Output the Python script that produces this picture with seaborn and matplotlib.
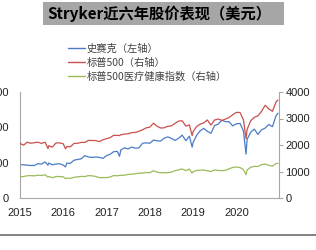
import matplotlib
matplotlib.use("Agg")
import matplotlib.pyplot as plt
from matplotlib.lines import Line2D
from matplotlib.patches import Rectangle
import seaborn as sns
import pandas as pd

sns.set_theme(style="white")
plt.rcParams['font.family'] = ['Liberation Sans', 'Noto Sans CJK SC', 'DejaVu Sans']

# ---- data ----
dates = [
    "2015-01-01", "2015-02-01", "2015-03-01", "2015-04-01", "2015-05-01", "2015-06-01",
    "2015-07-01", "2015-08-01", "2015-08-25", "2015-09-01", "2015-10-01", "2015-11-01", "2015-12-01",
    "2016-01-01", "2016-01-20", "2016-02-01", "2016-03-01", "2016-04-01", "2016-05-01", "2016-06-01",
    "2016-07-01", "2016-08-01", "2016-09-01", "2016-10-01", "2016-11-01", "2016-12-01",
    "2017-01-01", "2017-02-01", "2017-03-01", "2017-04-01", "2017-04-20", "2017-05-01", "2017-06-01",
    "2017-07-01", "2017-08-01", "2017-09-01", "2017-10-01", "2017-11-01", "2017-12-01",
    "2018-01-01", "2018-02-01", "2018-03-01", "2018-04-01", "2018-05-01", "2018-06-01",
    "2018-07-01", "2018-08-01", "2018-09-01", "2018-10-01", "2018-11-01", "2018-12-01", "2018-12-24",
    "2019-01-01", "2019-02-01", "2019-03-01", "2019-04-01", "2019-05-01", "2019-06-01",
    "2019-07-01", "2019-08-01", "2019-09-01", "2019-10-01", "2019-11-01", "2019-12-01",
    "2020-01-01", "2020-02-01", "2020-03-01", "2020-03-23", "2020-04-01", "2020-05-01", "2020-06-01",
    "2020-07-01", "2020-08-01", "2020-09-01", "2020-10-01", "2020-11-01", "2020-12-01", "2020-12-18",
]
stryker = [
    94, 94, 93, 92, 92, 97, 96, 102, 93, 99, 94, 96, 97,
    93, 88, 99, 98, 107, 109, 111, 120, 116, 115, 116, 115, 112,
    120, 124, 131, 132, 118, 136, 142, 139, 144, 141, 142, 155, 156,
    155, 164, 162, 161, 169, 173, 169, 163, 169, 178, 162, 175, 144,
    157, 178, 190, 197, 189, 183, 205, 209, 220, 216, 216, 204,
    210, 211, 190, 124, 166, 186, 195, 180, 193, 198, 208, 202, 233, 240,
]
sp500 = [
    2058, 1995, 2104, 2068, 2086, 2107, 2063, 2104, 1868, 1972, 1920, 2079, 2080,
    2044, 1859, 1940, 1932, 2060, 2065, 2097, 2099, 2174, 2171, 2168, 2126, 2199,
    2239, 2279, 2364, 2363, 2355, 2384, 2412, 2423, 2470, 2472, 2519, 2575, 2648,
    2674, 2824, 2714, 2641, 2648, 2705, 2718, 2816, 2902, 2914, 2712, 2760, 2351,
    2507, 2704, 2784, 2834, 2946, 2752, 2942, 2980, 2926, 2977, 3038, 3141,
    3231, 3226, 2954, 2237, 2585, 2912, 3044, 3100, 3271, 3500, 3363, 3270, 3622, 3700,
]
health = [
    795, 810, 840, 845, 835, 860, 850, 875, 790, 815, 765, 810, 810,
    800, 730, 750, 740, 780, 800, 815, 810, 845, 835, 815, 765, 770,
    770, 795, 845, 840, 850, 855, 860, 890, 900, 915, 935, 940, 960,
    955, 1030, 980, 950, 955, 955, 975, 1030, 1065, 1095, 1035, 1090, 940,
    990, 1040, 1050, 1055, 1030, 1000, 1060, 1040, 1030, 1045, 1100, 1150,
    1170, 1150, 1070, 880, 1060, 1160, 1195, 1190, 1260, 1280, 1235, 1200, 1300, 1310,
]
labels = ["史赛克（左轴）", "标普500（右轴）", "标普500医疗健康指数（右轴）"]
title = "Stryker近六年股价表现（美元）"
left_ticks = [0, 100, 200, 300]
right_ticks = [0, 1000, 2000, 3000, 4000]
year_ticks = ["2015", "2016", "2017", "2018", "2019", "2020"]

df = pd.DataFrame({"date": pd.to_datetime(dates), "stryker": stryker,
                   "sp500": sp500, "health": health})

c_blue, c_red, c_green = "#4a7cc6", "#c9504d", "#9bbb59"
grey = "#a6a6a6"

fig = plt.figure(figsize=(3.16, 2.5), dpi=100)
ax = fig.add_axes([20/316, 52/250, 258.5/316, 106/250])
ax2 = ax.twinx()

sns.lineplot(data=df, x="date", y="stryker", ax=ax, color=c_blue, lw=0.9, label=labels[0], legend=False)
sns.lineplot(data=df, x="date", y="sp500", ax=ax2, color=c_red, lw=0.9, label=labels[1], legend=False)
sns.lineplot(data=df, x="date", y="health", ax=ax2, color=c_green, lw=0.9, label=labels[2], legend=False)

ax.set_ylim(0, 300)
ax2.set_ylim(0, 4000)
ax.set_yticks(left_ticks)
ax2.set_yticks(right_ticks)
ax.set_xlim(pd.Timestamp("2015-01-01"), pd.Timestamp("2020-12-22"))
ax.set_xticks([pd.Timestamp(y + "-01-01") for y in year_ticks])
ax.set_xticklabels(year_ticks)
ax.set_xlabel("")
ax.set_ylabel("")
ax2.set_ylabel("")

for a in (ax, ax2):
    a.grid(False)
    a.spines['top'].set_visible(False)
    for s in ('left', 'right', 'bottom'):
        a.spines[s].set_color(grey)
        a.spines[s].set_linewidth(0.8)
ax.spines['right'].set_visible(False)
ax2.spines['left'].set_visible(False)
ax2.spines['bottom'].set_visible(False)

tick_font = dict(labelsize=8, labelcolor="#222222")
ax.tick_params(axis='y', length=0, pad=8, **tick_font)
ax.tick_params(axis='x', length=0, pad=7, **tick_font)
ax2.tick_params(axis='y', length=3, width=0.8, color=grey, pad=2, **tick_font)

handles = [Line2D([], [], color=c, lw=1.0) for c in (c_blue, c_red, c_green)]
leg = fig.legend(handles, labels, loc='upper left', bbox_to_anchor=(59/316, 1 - 34/250),
                 frameon=False, handlelength=1.6, handletextpad=0.2, labelspacing=0.4,
                 prop=dict(family=['Noto Sans CJK SC', 'DejaVu Sans'], size=7.4))
for t in leg.get_texts():
    t.set_color("#404040")

fig.patches.append(Rectangle((43/316, 1 - 25/250), 241/316, 23/250, transform=fig.transFigure,
                             facecolor=grey, edgecolor='none', zorder=0))
fig.text(159/316, 1 - 13.5/250, title, ha='center', va='center', fontsize=11,
         fontweight='bold', color='black', family=['Noto Sans CJK SC', 'DejaVu Sans'])

fig.lines.append(Line2D([0, 1], [1 - 234.5/250, 1 - 234.5/250], transform=fig.transFigure,
                        color="#606060", lw=1.1))

fig.savefig("out.png", dpi=100)
